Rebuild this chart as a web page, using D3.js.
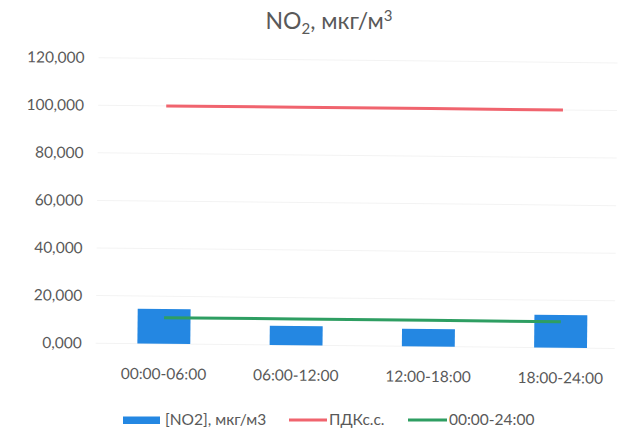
<!DOCTYPE html>
<html><head><meta charset="utf-8">
<script src="https://cdn.jsdelivr.net/npm/d3@7/dist/d3.min.js"></script>
<style>
html,body{margin:0;padding:0;background:#fff;}
svg{display:block;font-family:Lato,"Open Sans",sans-serif;}
</style></head>
<body>
<svg id="chart" width="620" height="433"></svg>
<script>
const categories = ["00:00-06:00","06:00-12:00","12:00-18:00","18:00-24:00"];
const no2Values = [14.6, 8.1, 7.4, 13.8];
const pdkValues = [100, 100, 100, 100];
const dailyValues = [11.0, 11.0, 11.0, 11.0];
const yTicks = [0, 20, 40, 60, 80, 100, 120];
const seriesNames = ["[NO2], мкг/м3", "ПДКс.с.", "00:00-24:00"];

const textColor = "#595959";
const blue = "#2487e2", red = "#f0646e", green = "#2e9e62";

const svg = d3.select("#chart");
const g = svg.append("g").attr("transform","rotate(0.58,330,216)");

const x = d3.scaleBand().domain(categories).range([99, 628]).paddingInner(0.6).paddingOuter(0.3);
const y = d3.scaleLinear().domain([0,120]).range([345.5, 60]);
const cx = d => x(d) + x.bandwidth()/2;

// gridlines
g.append("g").selectAll("line").data(yTicks).join("line")
  .attr("x1", 97).attr("x2", 616)
  .attr("y1", d=>y(d)).attr("y2", d=>y(d))
  .attr("stroke","#f3f3f3").attr("stroke-width",1);

// y tick labels
g.append("g").selectAll("text").data(yTicks).join("text")
  .attr("x", 83).attr("y", d=>y(d)).attr("dy","0.35em")
  .attr("text-anchor","end").attr("fill",textColor).attr("font-size",15.5)
  .text(d => {
    const s = d3.format(".3f")(d).split(".");
    const intPart = (+s[0]).toLocaleString("en-US");
    return intPart + "," + s[1];
  });

// bars
g.append("g").selectAll("rect").data(no2Values).join("rect")
  .attr("x", (d,i)=>x(categories[i])).attr("width", x.bandwidth())
  .attr("y", d=>y(d)).attr("height", d=>y(0)-y(d))
  .attr("fill", blue);

// lines
const line = d3.line().x((d,i)=>cx(categories[i])).y(d=>y(d));
g.append("path").datum(pdkValues).attr("d", line).attr("fill","none")
  .attr("stroke", red).attr("stroke-width", 3);
g.append("path").datum(dailyValues).attr("d", line).attr("fill","none")
  .attr("stroke", green).attr("stroke-width", 3);

// x labels
g.append("g").selectAll("text").data(categories).join("text")
  .attr("x", d=>cx(d)).attr("y", 381)
  .attr("text-anchor","middle").attr("fill",textColor).attr("font-size",15.5)
  .text(d=>d);

// title
const title = svg.append("text").attr("x", 329).attr("y", 29)
  .attr("text-anchor","middle").attr("fill",textColor).attr("font-size",23);
title.append("tspan").text("NO");
title.append("tspan").attr("font-size",15).attr("dy",5).text("2");
title.append("tspan").attr("dy",-5).text(", мкг/м");
title.append("tspan").attr("font-size",15).attr("dy",-8).text("3");

// legend
const lg = svg.append("g");
lg.append("rect").attr("x",123).attr("y",416.5).attr("width",37).attr("height",7.5).attr("fill",blue);
lg.append("text").attr("x",165).attr("y",425).attr("fill",textColor).attr("font-size",15.5).text(seriesNames[0]);
lg.append("line").attr("x1",289).attr("x2",327).attr("y1",420).attr("y2",420).attr("stroke",red).attr("stroke-width",3);
lg.append("text").attr("x",329).attr("y",425).attr("fill",textColor).attr("font-size",15.5).text(seriesNames[1]);
lg.append("line").attr("x1",408).attr("x2",447).attr("y1",420).attr("y2",420).attr("stroke",green).attr("stroke-width",3);
lg.append("text").attr("x",449).attr("y",425).attr("fill",textColor).attr("font-size",15.5).text(seriesNames[2]);
</script>
</body></html>
